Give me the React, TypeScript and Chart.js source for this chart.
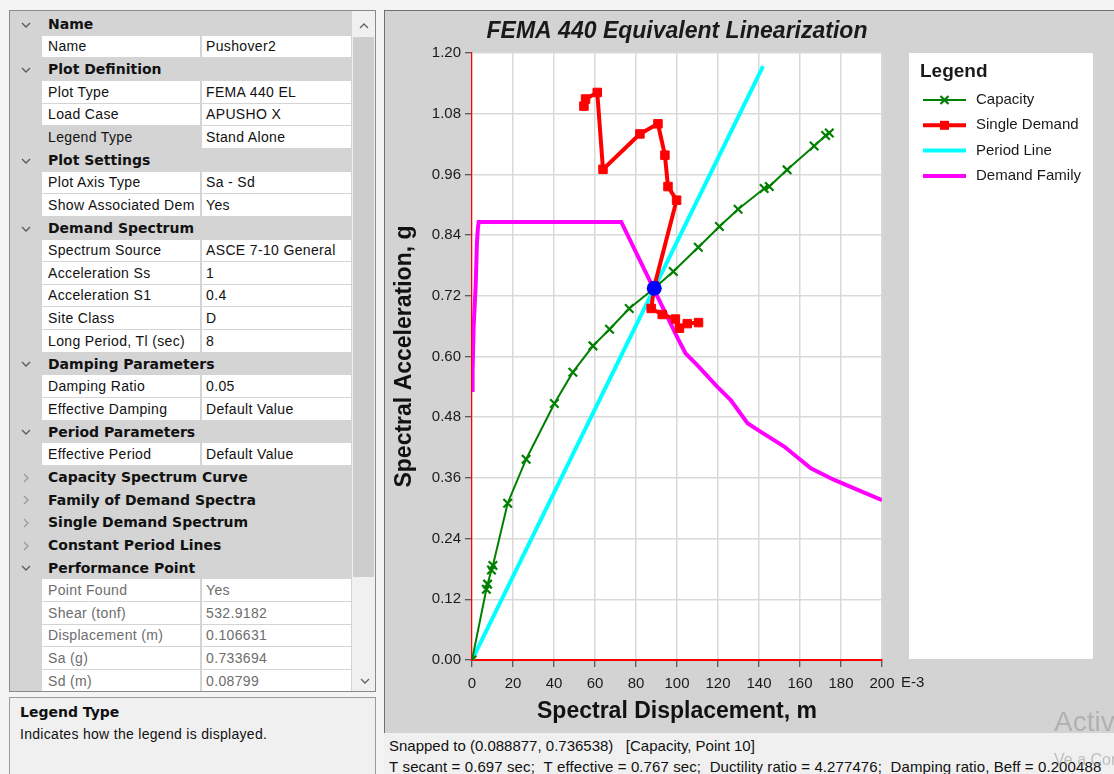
import React, { useEffect, useRef } from "react";
import { Chart, registerables } from "chart.js";

Chart.register(...registerables);

// ---------------- DATA ----------------
const chartTitle = "FEMA 440 Equivalent Linearization";
const xAxisTitle = "Spectral Displacement, m";
const yAxisTitle = "Spectral Acceleration, g";
const xUnitSuffix = "E-3";

const xTickValues = [0, 20, 40, 60, 80, 100, 120, 140, 160, 180, 200];
const xTickLabels = ["0", "20", "40", "60", "80", "100", "120", "140", "160", "180", "200"];
const yTickValues = [0, 0.12, 0.24, 0.36, 0.48, 0.6, 0.72, 0.84, 0.96, 1.08, 1.2];
const yTickLabels = ["0.00", "0.12", "0.24", "0.36", "0.48", "0.60", "0.72", "0.84", "0.96", "1.08", "1.20"];

const seriesNames = ["Capacity", "Single Demand", "Period Line", "Demand Family"];

// Capacity spectrum (Sd in E-3 m, Sa in g)
const capacitySd = [0, 7.0, 7.6, 9.5, 10.2, 17.4, 26.4, 40.2, 49.2, 59.0, 67.1, 76.7, 88.9, 98.2, 110.4, 120.7, 129.8, 142.5, 145.0, 153.7, 166.9, 172.5, 174.3];
const capacitySa = [0, 0.140, 0.150, 0.178, 0.187, 0.310, 0.397, 0.507, 0.569, 0.621, 0.654, 0.695, 0.735, 0.768, 0.816, 0.857, 0.891, 0.932, 0.936, 0.969, 1.016, 1.037, 1.042];

// Single demand spectrum
const demandSd = [54.6, 55.4, 61.1, 63.9, 81.9, 90.7, 94.1, 95.6, 99.8, 89.0, 87.4, 92.8, 99.2, 101.2, 105.0, 110.5];
const demandSa = [1.095, 1.109, 1.122, 0.970, 1.040, 1.060, 0.998, 0.936, 0.909, 0.740, 0.695, 0.683, 0.674, 0.656, 0.665, 0.667];

// Period line (secant)
const periodSd = [0, 142.0];
const periodSa = [0, 1.174];

// Demand family
const familySd = [0, 0.3, 0.8, 1.8, 2.4, 2.9, 3.3, 72.8, 100.5, 104.2, 109.9, 119.7, 126.2, 134.4, 140.9, 152.3, 165.3, 176.7, 200];
const familySa = [0.534, 0.574, 0.659, 0.741, 0.824, 0.855, 0.866, 0.866, 0.635, 0.606, 0.583, 0.540, 0.514, 0.468, 0.451, 0.422, 0.379, 0.356, 0.316];

// Performance point
const perfSd = [88.9];
const perfSa = [0.735];

// Property grid rows: [kind, label, value]
const gridRows: [string, string, string][] = [
  ["cat", "Name", "open"],
  ["prop", "Name", "Pushover2"],
  ["cat", "Plot Definition", "open"],
  ["prop", "Plot Type", "FEMA 440 EL"],
  ["prop", "Load Case", "APUSHO X"],
  ["sel", "Legend Type", "Stand Alone"],
  ["cat", "Plot Settings", "open"],
  ["prop", "Plot Axis Type", "Sa - Sd"],
  ["prop", "Show Associated Dem", "Yes"],
  ["cat", "Demand Spectrum", "open"],
  ["prop", "Spectrum Source", "ASCE 7-10 General"],
  ["prop", "Acceleration Ss", "1"],
  ["prop", "Acceleration S1", "0.4"],
  ["prop", "Site Class", "D"],
  ["prop", "Long Period, Tl (sec)", "8"],
  ["cat", "Damping Parameters", "open"],
  ["prop", "Damping Ratio", "0.05"],
  ["prop", "Effective Damping", "Default Value"],
  ["cat", "Period Parameters", "open"],
  ["prop", "Effective Period", "Default Value"],
  ["cat", "Capacity Spectrum Curve", "closed"],
  ["cat", "Family of Demand Spectra", "closed"],
  ["cat", "Single Demand Spectrum", "closed"],
  ["cat", "Constant Period Lines", "closed"],
  ["cat", "Performance Point", "open"],
  ["ro", "Point Found", "Yes"],
  ["ro", "Shear (tonf)", "532.9182"],
  ["ro", "Displacement (m)", "0.106631"],
  ["ro", "Sa (g)", "0.733694"],
  ["ro", "Sd (m)", "0.08799"],
];

const descTitle = "Legend Type";
const descText = "Indicates how the legend is displayed.";
const statusLine1 = "Snapped to (0.088877, 0.736538)   [Capacity, Point 10]";
const statusLine2 = "T secant = 0.697 sec;  T effective = 0.767 sec;  Ductility ratio = 4.277476;  Damping ratio, Beff = 0.200488";

// ---------------- HELPERS ----------------
const pts = (xs: number[], ys: number[]) => xs.map((x, i) => ({ x, y: ys[i] }));
const FONT = "'Liberation Sans', Arial, sans-serif";
const BOLD = "'DejaVu Sans', 'Liberation Sans', sans-serif";

const bgPlugin = {
  id: "panelBg",
  beforeDraw(chart: any) {
    const { ctx, chartArea, width, height } = chart;
    ctx.save();
    ctx.fillStyle = "#d3d3d3";
    ctx.fillRect(0, 0, width, height);
    ctx.fillStyle = "#ffffff";
    ctx.fillRect(chartArea.left, chartArea.top, chartArea.right - chartArea.left, chartArea.bottom - chartArea.top);
    ctx.restore();
  },
};

const extrasPlugin = {
  id: "standAloneLegend",
  afterDraw(chart: any) {
    const { ctx, chartArea } = chart;
    ctx.save();
    // E-3 suffix
    ctx.font = `15px ${FONT}`;
    ctx.fillStyle = "#1a1a1a";
    ctx.textBaseline = "middle";
    ctx.textAlign = "left";
    ctx.fillText(xUnitSuffix, chartArea.right + 19, chartArea.bottom + 23);

    // Legend box
    const bx = chartArea.right + 27;
    const by = chartArea.top;
    const bw = 184;
    const bh = chartArea.bottom - chartArea.top - 1;
    ctx.fillStyle = "#ffffff";
    ctx.fillRect(bx, by, bw, bh);
    ctx.fillStyle = "#1a1a1a";
    ctx.font = `bold 19px ${FONT}`;
    ctx.fillText("Legend", bx + 11, by + 19);

    ctx.font = `15px ${FONT}`;
    seriesNames.forEach((name, k) => {
      const ds = chart.data.datasets.find((d: any) => d.label === name);
      if (!ds) return;
      const y = by + 47 + k * 25.3;
      ctx.strokeStyle = ds.borderColor;
      ctx.lineWidth = ds.borderWidth;
      ctx.beginPath();
      ctx.moveTo(bx + 14, y);
      ctx.lineTo(bx + 57, y);
      ctx.stroke();
      const cx = bx + 35.5;
      if (ds.pointStyle === "crossRot") {
        ctx.lineWidth = 2.2;
        ctx.beginPath();
        ctx.moveTo(cx - 4, y - 4);
        ctx.lineTo(cx + 4, y + 4);
        ctx.moveTo(cx - 4, y + 4);
        ctx.lineTo(cx + 4, y - 4);
        ctx.stroke();
      } else if (ds.pointStyle === "rect") {
        ctx.fillStyle = ds.pointBackgroundColor;
        ctx.fillRect(cx - 4.5, y - 4.5, 9, 9);
      }
      ctx.fillStyle = "#1a1a1a";
      ctx.fillText(name, bx + 67, y);
    });
    ctx.restore();
  },
};

function ChartPanel() {
  const ref = useRef<HTMLCanvasElement | null>(null);
  useEffect(() => {
    if (!ref.current) return;
    Chart.defaults.font.family = FONT;
    const chart = new Chart(ref.current, {
      type: "scatter",
      data: {
        datasets: [
          {
            label: "Performance Point",
            data: pts(perfSd, perfSa),
            showLine: false,
            pointStyle: "circle",
            pointRadius: 7.5,
            pointBackgroundColor: "#0000ff",
            pointBorderColor: "#0000ff",
            pointBorderWidth: 0,
            order: 0,
          },
          {
            label: seriesNames[0],
            data: pts(capacitySd, capacitySa),
            showLine: true,
            borderColor: "#008000",
            backgroundColor: "#008000",
            borderWidth: 2,
            pointStyle: "crossRot",
            pointRadius: 6,
            pointBorderWidth: 2.2,
            pointBorderColor: "#008000",
            order: 1,
          },
          {
            label: seriesNames[1],
            data: pts(demandSd, demandSa),
            showLine: true,
            borderColor: "#ff0000",
            backgroundColor: "#ff0000",
            borderWidth: 4,
            pointStyle: "rect",
            pointRadius: 6,
            pointBackgroundColor: "#ff0000",
            pointBorderColor: "#ff0000",
            pointBorderWidth: 1,
            order: 2,
          },
          {
            label: seriesNames[2],
            data: pts(periodSd, periodSa),
            showLine: true,
            borderColor: "#00ffff",
            backgroundColor: "#00ffff",
            borderWidth: 4,
            pointRadius: 0,
            order: 3,
          },
          {
            label: seriesNames[3],
            data: pts(familySd, familySa),
            showLine: true,
            borderColor: "#ff00ff",
            backgroundColor: "#ff00ff",
            borderWidth: 4,
            pointRadius: 0,
            order: 4,
          },
        ],
      },
      options: {
        animation: false,
        responsive: false,
        events: [],
        layout: { padding: { left: 0, top: 0, right: 232, bottom: 0 } },
        plugins: {
          legend: { display: false },
          tooltip: { enabled: false },
          title: {
            display: true,
            text: chartTitle,
            fullSize: false,
            color: "#1a1a1a",
            font: { size: 23, weight: "bold", style: "italic", family: FONT },
            padding: { top: 6.5, bottom: 7.9 },
          },
        },
        scales: {
          x: {
            type: "linear",
            min: 0,
            max: 200,
            afterBuildTicks: (s: any) => {
              s.ticks = xTickValues.map((v) => ({ value: v }));
            },
            afterFit: (s: any) => {
              s.height = 73;
            },
            ticks: {
              autoSkip: false,
              maxRotation: 0,
              padding: 7.5,
              color: "#1a1a1a",
              font: { size: 15, family: FONT },
              callback: (_v: any, i: number) => xTickLabels[i],
            },
            grid: { color: "#d9d9d9", lineWidth: 1.5, tickLength: 7, tickColor: "#333333", tickWidth: 1 },
            border: { color: "#ff0000", width: 2 },
            title: {
              display: true,
              text: xAxisTitle,
              color: "#111111",
              font: { size: 23, weight: "bold", family: FONT },
              padding: { top: 0, bottom: 8 },
            },
          },
          y: {
            type: "linear",
            min: 0,
            max: 1.2,
            afterBuildTicks: (s: any) => {
              s.ticks = yTickValues.map((v) => ({ value: v }));
            },
            afterFit: (s: any) => {
              s.width = 87;
            },
            ticks: {
              autoSkip: false,
              padding: 4,
              color: "#1a1a1a",
              font: { size: 15, family: FONT },
              callback: (_v: any, i: number) => yTickLabels[i],
            },
            grid: { color: "#d9d9d9", lineWidth: 1.5, tickLength: 7, tickColor: "#333333", tickWidth: 1 },
            border: { color: "#ff0000", width: 1.2 },
            title: {
              display: true,
              text: yAxisTitle,
              color: "#111111",
              font: { size: 23, weight: "bold", family: FONT },
              padding: { top: 6.2, bottom: 0 },
            },
          },
        },
      },
      plugins: [bgPlugin, extrasPlugin],
    } as any);
    return () => chart.destroy();
  }, []);
  return (
    <canvas
      ref={ref}
      width={729}
      height={722}
      style={{ display: "block", width: 729, height: 722, background: "#d3d3d3" }}
    />
  );
}

function Chevron({ open, x, y }: { open: boolean; x: number; y: number }) {
  return open ? (
    <svg style={{ position: "absolute", left: x, top: y }} width={10} height={6}>
      <polyline points="1,1 5,5 9,1" fill="none" stroke="#5a5a5a" strokeWidth={1.3} />
    </svg>
  ) : (
    <svg style={{ position: "absolute", left: x + 2, top: y - 2 }} width={6} height={10}>
      <polyline points="1,1 5,5 1,9" fill="none" stroke="#9a9a9a" strokeWidth={1.3} />
    </svg>
  );
}

function PropertyGrid() {
  const ROW0 = 13;
  const RH = 22.65;
  return (
    <div
      style={{
        position: "absolute",
        left: 9,
        top: 10,
        width: 367,
        height: 682,
        border: "1px solid #8a8a8a",
        boxSizing: "border-box",
        background: "#d4d4d4",
        overflow: "hidden",
      }}
    >
      {gridRows.map((r, i) => {
        const top = Math.round(ROW0 + i * RH) - 11;
        const bottom = Math.round(ROW0 + (i + 1) * RH) - 11;
        const h = bottom - top;
        const [kind, label, value] = r;
        if (kind === "cat") {
          return (
            <div key={i} style={{ position: "absolute", left: 0, top, width: 342, height: h }}>
              <Chevron open={value === "open"} x={11} y={h / 2 - 3} />
              <div
                style={{
                  position: "absolute",
                  left: 38,
                  top: 0,
                  height: h,
                  lineHeight: `${h}px`,
                  fontFamily: BOLD,
                  fontWeight: "bold",
                  fontSize: 14,
                  color: "#111",
                  whiteSpace: "nowrap",
                }}
              >
                {label}
              </div>
            </div>
          );
        }
        const color = kind === "ro" ? "#6d6d6d" : "#111";
        const cell = {
          position: "absolute" as const,
          top,
          height: h - 1.3,
          lineHeight: `${h - 1}px`,
          fontFamily: FONT,
          fontSize: 14,
          letterSpacing: 0.35,
          color,
          whiteSpace: "nowrap" as const,
          overflow: "hidden",
          boxSizing: "border-box" as const,
        };
        return (
          <React.Fragment key={i}>
            <div style={{ ...cell, left: 32, width: 158, paddingLeft: 6, background: kind === "sel" ? "#d4d4d4" : "#ffffff" }}>
              {label}
            </div>
            <div style={{ ...cell, left: 192, width: 149, paddingLeft: 4, background: "#ffffff" }}>{value}</div>
          </React.Fragment>
        );
      })}
      {/* scrollbar */}
      <div style={{ position: "absolute", left: 342, top: 0, width: 23, height: 682, background: "#f0f0f0" }}>
        <svg style={{ position: "absolute", left: 7, top: 12 }} width={10} height={6}>
          <polyline points="1,5 5,1 9,5" fill="none" stroke="#606060" strokeWidth={1.3} />
        </svg>
        <div style={{ position: "absolute", left: 1, top: 26, width: 21, height: 540, background: "#cdcdcd" }} />
        <svg style={{ position: "absolute", left: 8, top: 667 }} width={10} height={6}>
          <polyline points="1,1 5,5 9,1" fill="none" stroke="#606060" strokeWidth={1.3} />
        </svg>
      </div>
    </div>
  );
}

export default function App() {
  return (
    <div
      style={{
        position: "fixed",
        left: 0,
        top: 0,
        width: 1114,
        height: 774,
        overflow: "hidden",
        background: "#f4f4f4",
        fontFamily: FONT,
        color: "#000",
      }}
    >
      <PropertyGrid />
      {/* description box */}
      <div
        style={{
          position: "absolute",
          left: 9,
          top: 697,
          width: 367,
          height: 90,
          border: "1px solid #9a9a9a",
          boxSizing: "border-box",
          background: "#f0f0f0",
        }}
      >
        <div style={{ position: "absolute", left: 10, top: 5, fontFamily: BOLD, fontWeight: "bold", fontSize: 14, color: "#111", lineHeight: "18px" }}>
          {descTitle}
        </div>
        <div style={{ position: "absolute", left: 10, top: 27, fontSize: 14, letterSpacing: 0.3, color: "#111", lineHeight: "18px", whiteSpace: "nowrap" }}>
          {descText}
        </div>
      </div>
      {/* chart panel */}
      <div
        style={{
          position: "absolute",
          left: 384,
          top: 10,
          width: 730,
          height: 723,
          borderLeft: "1px solid #707070",
          borderTop: "1px solid #707070",
          boxSizing: "border-box",
          background: "#d3d3d3",
        }}
      >
        <ChartPanel />
      </div>
      {/* status bar */}
      <div
        style={{
          position: "absolute",
          left: 384,
          top: 733,
          width: 730,
          height: 41,
          background: "#f0f0f0",
          fontSize: 15,
          lineHeight: "21px",
          paddingTop: 2,
          paddingLeft: 5,
          boxSizing: "border-box",
          whiteSpace: "nowrap",
          color: "#111",
        }}
      >
        <div>{statusLine1.replace(/ /g, "\u00a0")}</div>
        <div style={{ letterSpacing: 0.1 }}>{statusLine2.replace(/ /g, "\u00a0")}</div>
      </div>
      {/* OS watermark */}
      <div style={{ position: "absolute", left: 1054, top: 706, fontSize: 28, color: "rgba(150,150,150,0.55)", whiteSpace: "nowrap", lineHeight: "32px" }}>
        Activar Windows
      </div>
      <div style={{ position: "absolute", left: 1054, top: 750, fontSize: 16, color: "rgba(150,150,150,0.55)", whiteSpace: "nowrap", lineHeight: "20px" }}>
        Ve a Configuración para activar Windows.
      </div>
    </div>
  );
}
